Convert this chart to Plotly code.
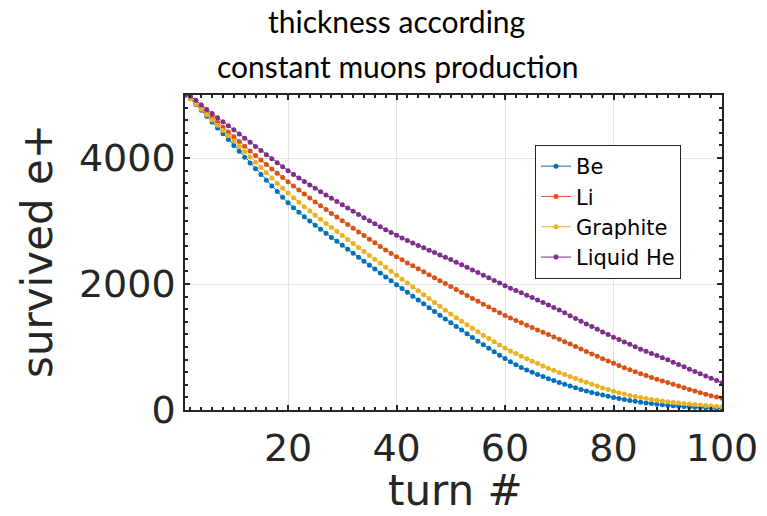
import plotly.graph_objects as go

turns = list(range(1, 101))

be = [5000, 4940, 4850, 4757, 4664, 4571, 4478, 4385, 4292, 4199,
      4106, 4013, 3920, 3828, 3737, 3647, 3557, 3467, 3378, 3290,
      3212, 3138, 3067, 2999, 2933, 2868, 2804, 2740, 2677, 2614,
      2551, 2488, 2425, 2362, 2299, 2237, 2175, 2113, 2051, 1990,
      1929, 1868, 1807, 1746, 1685, 1625, 1565, 1505, 1445, 1386,
      1327, 1268, 1209, 1151, 1093, 1036, 980, 925, 871, 818,
      767, 719, 675, 635, 598, 563, 530, 498, 467, 437,
      408, 380, 353, 327, 302, 279, 257, 237, 218, 200,
      183, 167, 152, 138, 125, 113, 102, 92, 83, 75,
      67, 60, 54, 48, 43, 38, 34, 30, 26, 22]

li = [5000, 4950, 4875, 4798, 4720, 4643, 4566, 4489, 4412, 4336,
      4261, 4186, 4112, 4039, 3967, 3896, 3826, 3757, 3689, 3622,
      3556, 3491, 3427, 3364, 3302, 3241, 3181, 3121, 3062, 3003,
      2944, 2885, 2827, 2769, 2711, 2654, 2597, 2541, 2486, 2432,
      2383, 2335, 2288, 2241, 2194, 2147, 2100, 2053, 2006, 1959,
      1912, 1865, 1818, 1771, 1725, 1679, 1633, 1588, 1543, 1499,
      1460, 1421, 1383, 1345, 1308, 1271, 1234, 1197, 1160, 1123,
      1085, 1046, 1007, 968, 929, 890, 852, 814, 777, 741,
      706, 672, 639, 607, 576, 546, 517, 489, 462, 436,
      408, 380, 353, 326, 300, 275, 251, 228, 206, 185]

graphite = [5000, 4940, 4856, 4772, 4688, 4604, 4520, 4436, 4352, 4268,
            4184, 4100, 4016, 3932, 3848, 3764, 3681, 3600, 3521, 3444,
            3369, 3297, 3227, 3159, 3092, 3026, 2961, 2897, 2833, 2769,
            2706, 2643, 2580, 2517, 2454, 2391, 2328, 2265, 2202, 2139,
            2077, 2015, 1953, 1891, 1829, 1768, 1707, 1646, 1585, 1524,
            1466, 1409, 1352, 1296, 1241, 1187, 1134, 1082, 1031, 981,
            937, 895, 854, 814, 775, 737, 700, 664, 629, 595,
            562, 530, 499, 469, 440, 410, 380, 351, 324, 298,
            274, 252, 232, 214, 197, 181, 167, 154, 142, 131,
            121, 111, 102, 94, 86, 78, 71, 64, 57, 50]

liquid_he = [5000, 4985, 4915, 4843, 4770, 4705, 4640, 4575, 4511, 4447,
             4381, 4315, 4249, 4183, 4118, 4053, 3988, 3924, 3860, 3797,
             3740, 3684, 3628, 3573, 3519, 3466, 3413, 3361, 3309, 3257,
             3206, 3155, 3104, 3053, 3003, 2955, 2908, 2862, 2817, 2774,
             2732, 2691, 2651, 2612, 2574, 2536, 2499, 2462, 2425, 2388,
             2347, 2306, 2265, 2224, 2182, 2140, 2098, 2056, 2014, 1971,
             1934, 1897, 1860, 1823, 1786, 1746, 1706, 1666, 1626, 1586,
             1542, 1498, 1454, 1410, 1366, 1324, 1282, 1240, 1198, 1156,
             1118, 1080, 1042, 1004, 966, 932, 898, 864, 830, 796,
             759, 722, 685, 648, 611, 575, 539, 503, 467, 432]

series_names = ["Be", "Li", "Graphite", "Liquid He"]
series_values = [be, li, graphite, liquid_he]
colors = ["#0072BD", "#D95319", "#EDB120", "#7E2F8E"]

x_ticks = [20, 40, 60, 80, 100]
y_ticks = [0, 2000, 4000]

fig = go.Figure()
for name, vals, col in zip(series_names, series_values, colors):
    fig.add_trace(go.Scatter(
        x=turns, y=vals, name=name, mode="lines+markers",
        line=dict(color=col, width=1),
        marker=dict(color=col, size=5),
    ))

axis_col = "#262626"
tick_font = dict(family="DejaVu Sans", size=38, color=axis_col)
label_font = dict(family="DejaVu Sans", size=42, color=axis_col)
title_font = dict(family="Lato", size=30, color="black")

L, R, T, B = 185, 722, 95, 410
W, H = R - L, B - T


def px(xp, yp):
    return (xp - L) / W, (B - yp) / H


fig.update_layout(
    width=767, height=516,
    margin=dict(l=L, r=767 - R, t=T, b=516 - B),
    paper_bgcolor="white", plot_bgcolor="white",
    showlegend=True,
    legend=dict(
        x=px(535, 145)[0], y=px(535, 145)[1], xanchor="left", yanchor="top",
        bgcolor="white", bordercolor=axis_col, borderwidth=1,
        font=dict(family="DejaVu Sans", size=21, color="black"),
        itemwidth=30, tracegroupgap=0,
    ),
)

for text, (xp, yp), font, ang in [
    ("thickness according", (396, 21), title_font, 0),
    ("constant muons production", (397, 66), title_font, 0),
    ("turn #", (455, 490), label_font, 0),
    ("survived e+", (37, 251), label_font, -90),
]:
    ax, ay = px(xp, yp)
    fig.add_annotation(text=text, xref="paper", yref="paper", x=ax, y=ay,
                       xanchor="center", yanchor="middle", textangle=ang,
                       showarrow=False, font=font)

fig.update_xaxes(
    range=[1, 100], tickmode="array", tickvals=x_ticks, automargin=False,
    showline=True, linecolor=axis_col, linewidth=1.5, mirror="allticks",
    ticks="inside", ticklen=5, tickwidth=1.5, tickcolor=axis_col,
    showgrid=True, gridcolor="#e3e3e3", gridwidth=1, zeroline=False,
    minor=dict(tickmode="linear", tick0=0, dtick=2, ticks="inside", ticklen=3,
               tickcolor=axis_col, showgrid=False),
    tickfont=tick_font, ticklabelstandoff=4,
)
fig.update_yaxes(
    range=[0, 5000], tickmode="array", tickvals=y_ticks, automargin=False,
    showline=True, linecolor=axis_col, linewidth=1.5, mirror="allticks",
    ticks="inside", ticklen=5, tickwidth=1.5, tickcolor=axis_col,
    showgrid=True, gridcolor="#e3e3e3", gridwidth=1, zeroline=False,
    minor=dict(tickmode="linear", tick0=0, dtick=200, ticks="inside", ticklen=3,
               tickcolor=axis_col, showgrid=False),
    tickfont=tick_font,
)

fig.write_html("out.html")
